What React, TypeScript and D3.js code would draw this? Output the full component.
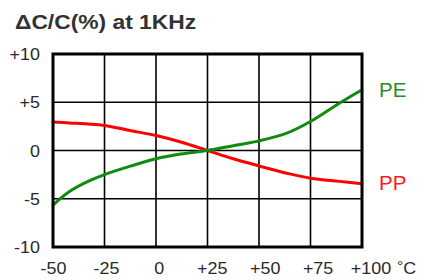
import * as d3 from "d3"

const temps = [-50, -42, -33, -25, -12, 0, 12, 25, 37.5, 50, 63.5, 75, 89, 100]
const pe = [-5.65, -4.25, -3.2, -2.5, -1.6, -0.86, -0.37, 0, 0.5, 1.0, 1.8, 3.0, 4.9, 6.3]
const pp = [2.95, 2.85, 2.75, 2.6, 2.05, 1.55, 0.88, 0, -0.86, -1.6, -2.35, -2.87, -3.2, -3.45]

const xTicks = [-50, -25, 0, 25, 50, 75, 100]
const xTickLabels = ["-50", "-25", "0", "+25", "+50", "+75", "+100"]
const yTicks = [10, 5, 0, -5, -10]
const yTickLabels = ["+10", "+5", "0", "-5", "-10"]

const W = 424
const H = 280
const FONT = "'Liberation Sans', Arial, sans-serif"

export default function App() {
    const x = d3.scaleLinear().domain([-50, 100]).range([53, 362])
    const y = d3.scaleLinear().domain([-10, 10]).range([247, 54])
    // tick labels sit a bit right of the gridlines in the original
    const xLab = d3.scaleLinear().domain([-50, 100]).range([53.5, 371])

    const line = d3
        .line<number>()
        .x((_, i) => x(temps[i]))
        .y((d) => y(d))
        .curve(d3.curveCatmullRom.alpha(0.5))

    return (
        <svg width={W} height={H} style={{ position: "absolute", left: 0, top: 0, background: "#fff" }}>
            <text
                transform="translate(15,29) scale(1.17,1)"
                fontFamily={FONT}
                fontSize={19.5}
                fontWeight="bold"
                fill="#333"
            >
                ΔC/C(%) at 1KHz
            </text>

            {/* grid */}
            {xTicks.slice(1, -1).map((t) => (
                <line key={"gx" + t} x1={x(t)} x2={x(t)} y1={y(10)} y2={y(-10)} stroke="#000" strokeWidth={1.6} />
            ))}
            {yTicks.slice(1, -1).map((t) => (
                <line key={"gy" + t} x1={x(-50)} x2={x(100)} y1={y(t)} y2={y(t)} stroke="#000" strokeWidth={1.6} />
            ))}

            <path d={line(pp) as string} fill="none" stroke="#ff0000" strokeWidth={3} strokeLinecap="round" />
            <path d={line(pe) as string} fill="none" stroke="#118a11" strokeWidth={3} strokeLinecap="round" />

            <rect
                x={x(-50)}
                y={y(10)}
                width={x(100) - x(-50)}
                height={y(-10) - y(10)}
                fill="none"
                stroke="#000"
                strokeWidth={3}
            />

            {yTicks.map((t, i) => (
                <text
                    key={"yl" + t}
                    transform={`translate(40,${y(t) + 6}) scale(1.12,1)`}
                    textAnchor="end"
                    fontFamily={FONT}
                    fontSize={16}
                    fill="#2a2a2a"
                >
                    {yTickLabels[i]}
                </text>
            ))}
            {xTicks.map((t, i) => (
                <text
                    key={"xl" + t}
                    transform={`translate(${xLab(t)},274) scale(1.12,1)`}
                    textAnchor="middle"
                    fontFamily={FONT}
                    fontSize={16}
                    fill="#2a2a2a"
                >
                    {xTickLabels[i]}
                </text>
            ))}
            <text transform="translate(397,274) scale(1.12,1)" fontFamily={FONT} fontSize={16} fill="#2a2a2a">
                <tspan dy={-3} fontSize={14}>°</tspan>
                <tspan dy={3}>C</tspan>
            </text>

            <text x={379} y={97} fontFamily={FONT} fontSize={20.5} fill="#1f8f1f">
                PE
            </text>
            <text x={379} y={190} fontFamily={FONT} fontSize={20.5} fill="#ff1a1a">
                PP
            </text>
        </svg>
    )
}
